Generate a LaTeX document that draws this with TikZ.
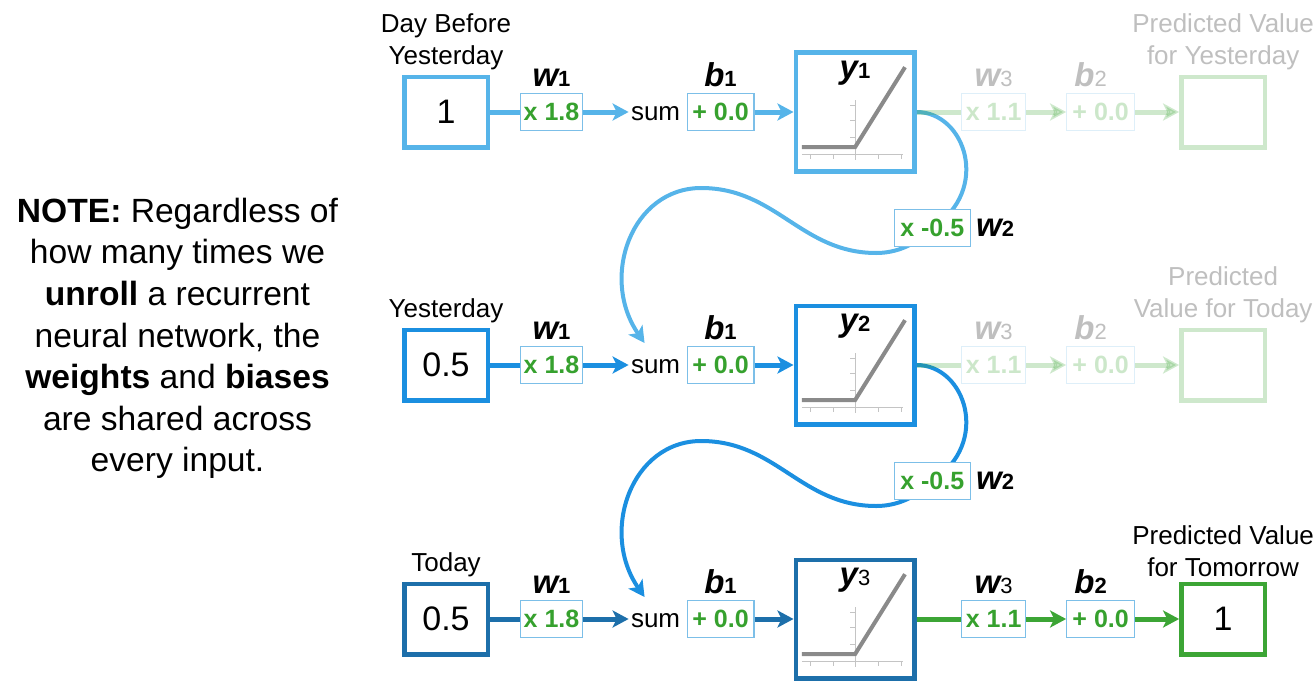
\documentclass[tikz,border=0pt]{standalone}
\usepackage{fontspec}
\setmainfont{Liberation Sans}
\usetikzlibrary{positioning,arrows.meta,backgrounds}

\definecolor{skyblue}{HTML}{56B4E9}
\definecolor{midblue}{HTML}{1B8FE0}
\definecolor{deepblue}{HTML}{1D6FAA}
\definecolor{thinblue}{HTML}{7CBFE8}
\definecolor{pgreen}{HTML}{36A12E}
\definecolor{outgreen}{HTML}{3CA535}
\definecolor{relugray}{HTML}{8A8A8A}
\definecolor{axisgray}{HTML}{C4C4C4}

\begin{document}
\begin{tikzpicture}[
		x=1pt, y=1pt,
		inbox/.style={draw, line width=2.25pt, fill=white, minimum width=41.75pt, minimum height=35.25pt, font=\fontsize{17}{20}\selectfont},
		parambox/.style={draw=thinblue, line width=0.6pt, fill=white, minimum height=18.4pt, inner sep=1pt, text=pgreen, font=\bfseries\fontsize{12.5}{14}\selectfont},
		actbox/.style={draw, line width=2.25pt, fill=white, minimum size=59.25pt},
		toplab/.style={align=center, inner sep=1pt, font=\fontsize{13}{16}\selectfont},
		parlab/.style={inner sep=0.5pt, font=\bfseries\itshape\fontsize{16.5}{18}\selectfont},
		sumlab/.style={inner sep=1pt, font=\fontsize{13}{16}\selectfont},
		notetext/.style={align=center, font=\fontsize{16.8}{20.8}\selectfont},
		conn/.style={line width=2.5pt},
		arr/.style={line width=2.5pt, -{Stealth[length=8pt,width=8.5pt,inset=2pt]}},
		recur/.style={line width=2pt, -{Stealth[length=8pt,width=8.5pt,inset=2pt]}},
		faded/.style={opacity=0.25, text opacity=0.25},
		reluplot/.pic={
			\draw[axisgray, line width=0.5pt] (-26.6,-21) -- (24,-21) (0,5.8) -- (0,-24.2)
			(-22.5,-21) -- (-22.5,-23.5) (-10.8,-21) -- (-10.8,-23.5) (11.7,-21) -- (11.7,-23.5) (23.3,-21) -- (23.3,-23.5)
			(0,3.2) -- (-2.5,3.2) (0,-4.2) -- (-2.5,-4.2) (0,-12.5) -- (-2.5,-12.5);
			\draw[relugray, line width=2pt] (-26.6,-17.6) -- (0,-17.6) -- (25,22.4);
		}
		]
		\useasboundingbox (0,0) rectangle (658,341);
		
		\node[notetext] (note) at (88.75,171.75) {\textbf{NOTE:} Regardless of\\how many times we\\\textbf{unroll} a recurrent\\neural network, the\\\textbf{weights} and \textbf{biases}\\are shared across\\every input.};
		
		% day before yesterday
		\node[inbox, draw=skyblue] (in1) at (223,285) {1};
		\node[toplab, above=1.2pt of in1] (in1lab) {Day Before\\Yesterday};
		\node[parambox, minimum width=30.9pt, right=15pt of in1] (w1a) {x 1.8};
		\node[parlab, above=2.5pt of w1a] (w1alab) {w{\upshape\fontsize{11}{11}\selectfont 1}};
		\node[sumlab, right=22.8pt of w1a, yshift=-0.8pt] (sum1) {sum};
		\node[parambox, minimum width=33.4pt, right=2pt of sum1, yshift=0.8pt] (b1a) {+ 0.0};
		\node[parlab, above=2.5pt of b1a] (b1alab) {b{\upshape\fontsize{11}{11}\selectfont 1}};
		\node[actbox, draw=skyblue, right=19.5pt of b1a] (act1) {};
		\pic at (act1.center) {reluplot};
		\node[parlab] (y1lab) at ([yshift=-11.5pt]act1.north) {y{\upshape\fontsize{11}{11}\selectfont 1}};
		\draw[conn, skyblue] (in1) -- (w1a);
		\draw[arr, skyblue] (w1a) -- (w1a -| sum1.west);
		\draw[arr, skyblue] (b1a) -- (act1);
		\begin{scope}[faded]
			\node[parambox, minimum width=31.9pt, right=22.3pt of act1] (w3a) {x 1.1};
			\node[parlab, above=2.5pt of w3a] (w3alab) {w{\upshape\mdseries\fontsize{11}{11}\selectfont 3}};
			\node[parambox, minimum width=33.9pt, right=20pt of w3a] (b2a) {+ 0.0};
			\node[parlab, above=2.5pt of b2a, xshift=-5pt] (b2alab) {b{\upshape\mdseries\fontsize{11}{11}\selectfont 2}};
			\node[inbox, draw=outgreen, right=22pt of b2a] (out1) {};
			\node[toplab, above=1.2pt of out1] (out1lab) {Predicted Value\\for Yesterday};
			\draw[conn, outgreen] (act1) -- (w3a);
			\draw[arr, outgreen] (w3a) -- (b2a);
			\draw[arr, outgreen] (b2a) -- (out1);
		\end{scope}
		\node[parambox, minimum width=38pt] (w2a) at ([shift={(38.6,-58)}]act1.center) {x -0.5};
		\node[parlab, right=2pt of w2a] (w2alab) {w{\upshape\fontsize{11}{11}\selectfont 2}};
		
		% yesterday
		\node[inbox, draw=midblue] (in2) at (223,158.5) {0.5};
		\node[toplab, above=1.2pt of in2] (in2lab) {Yesterday};
		\node[parambox, minimum width=30.9pt, right=15pt of in2] (w1b) {x 1.8};
		\node[parlab, above=2.5pt of w1b] (w1blab) {w{\upshape\fontsize{11}{11}\selectfont 1}};
		\node[sumlab, right=22.8pt of w1b, yshift=-0.8pt] (sum2) {sum};
		\node[parambox, minimum width=33.4pt, right=2pt of sum2, yshift=0.8pt] (b1b) {+ 0.0};
		\node[parlab, above=2.5pt of b1b] (b1blab) {b{\upshape\fontsize{11}{11}\selectfont 1}};
		\node[actbox, draw=midblue, right=19.5pt of b1b] (act2) {};
		\pic at (act2.center) {reluplot};
		\node[parlab] (y2lab) at ([yshift=-11.5pt]act2.north) {y{\upshape\fontsize{11}{11}\selectfont 2}};
		\draw[conn, midblue] (in2) -- (w1b);
		\draw[arr, midblue] (w1b) -- (w1b -| sum2.west);
		\draw[arr, midblue] (b1b) -- (act2);
		\begin{scope}[faded]
			\node[parambox, minimum width=31.9pt, right=22.3pt of act2] (w3b) {x 1.1};
			\node[parlab, above=2.5pt of w3b] (w3blab) {w{\upshape\mdseries\fontsize{11}{11}\selectfont 3}};
			\node[parambox, minimum width=33.9pt, right=20pt of w3b] (b2b) {+ 0.0};
			\node[parlab, above=2.5pt of b2b, xshift=-5pt] (b2blab) {b{\upshape\mdseries\fontsize{11}{11}\selectfont 2}};
			\node[inbox, draw=outgreen, right=22pt of b2b] (out2) {};
			\node[toplab, above=1.2pt of out2] (out2lab) {Predicted\\Value for Today};
			\draw[conn, outgreen] (act2) -- (w3b);
			\draw[arr, outgreen] (w3b) -- (b2b);
			\draw[arr, outgreen] (b2b) -- (out2);
		\end{scope}
		\node[parambox, minimum width=38pt] (w2b) at ([shift={(38.6,-58)}]act2.center) {x -0.5};
		\node[parlab, right=2pt of w2b] (w2blab) {w{\upshape\fontsize{11}{11}\selectfont 2}};
		
		% today
		\node[inbox, draw=deepblue] (in3) at (223,31.5) {0.5};
		\node[toplab, above=1.2pt of in3] (in3lab) {Today};
		\node[parambox, minimum width=30.9pt, right=15pt of in3] (w1c) {x 1.8};
		\node[parlab, above=2.5pt of w1c] (w1clab) {w{\upshape\fontsize{11}{11}\selectfont 1}};
		\node[sumlab, right=22.8pt of w1c, yshift=-0.8pt] (sum3) {sum};
		\node[parambox, minimum width=33.4pt, right=2pt of sum3, yshift=0.8pt] (b1c) {+ 0.0};
		\node[parlab, above=2.5pt of b1c] (b1clab) {b{\upshape\fontsize{11}{11}\selectfont 1}};
		\node[actbox, draw=deepblue, right=19.5pt of b1c] (act3) {};
		\pic at (act3.center) {reluplot};
		\node[parlab] (y3lab) at ([yshift=-11.5pt]act3.north) {y{\upshape\mdseries\fontsize{11}{11}\selectfont 3}};
		\node[parambox, minimum width=31.9pt, right=22.3pt of act3] (w3c) {x 1.1};
		\node[parlab, above=2.5pt of w3c] (w3clab) {w{\upshape\mdseries\fontsize{11}{11}\selectfont 3}};
		\node[parambox, minimum width=33.9pt, right=20pt of w3c] (b2c) {+ 0.0};
		\node[parlab, above=2.5pt of b2c, xshift=-5pt] (b2clab) {b{\upshape\fontsize{11}{11}\selectfont 2}};
		\node[inbox, draw=outgreen, right=22pt of b2c] (out3) {1};
		\node[toplab, above=1.2pt of out3] (out3lab) {Predicted Value\\for Tomorrow};
		\draw[conn, deepblue] (in3) -- (w1c);
		\draw[arr, deepblue] (w1c) -- (w1c -| sum3.west);
		\draw[arr, deepblue] (b1c) -- (act3);
		\draw[conn, outgreen] (act3) -- (w3c);
		\draw[arr, outgreen] (w3c) -- (b2c);
		\draw[arr, outgreen] (b2c) -- (out3);
		
		% the loops back into the next sum
		\coordinate (tip2) at ([shift={(-5.5,11.8)}]sum2.center);
		\coordinate (tip3) at ([shift={(-5.5,11.8)}]sum3.center);
		\begin{scope}[on background layer]
			\draw[recur, skyblue] (act1.east) .. controls +(24.5,0) and +(29.5,19) .. (w2a.center)
			.. controls +(-8,-8.5) and +(10,0) .. ++(-28,-12.5)
			.. controls +(-37.5,0) and +(37.5,0) .. ++(-87.5,32.5)
			.. controls +(-35,0) and +(-22.5,32.5) .. (tip2);
			\draw[recur, midblue] (act2.east) .. controls +(24.5,0) and +(29.5,19) .. (w2b.center)
			.. controls +(-8,-8.5) and +(10,0) .. ++(-28,-12.5)
			.. controls +(-37.5,0) and +(37.5,0) .. ++(-87.5,32.5)
			.. controls +(-35,0) and +(-22.5,32.5) .. (tip3);
		\end{scope}
\end{tikzpicture}
\end{document}
